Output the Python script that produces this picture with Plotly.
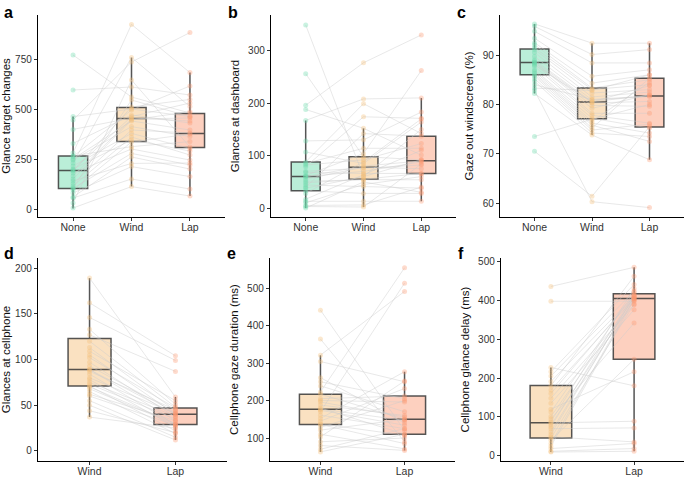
import plotly.graph_objects as go

W, H = 685, 477

# ---------------- data (per participant) ----------------
a_none = [770, 595, 462, 445, 398, 328, 280, 265, 262, 250, 245, 230, 215, 200, 195, 190, 180, 165, 150, 140, 128, 115, 105, 103, 95, 80, 60, 55, 30, 5]
a_wind = [560, 610, 500, 735, 455, 470, 923, 312, 495, 440, 412, 758, 378, 345, 462, 510, 300, 450, 445, 228, 395, 360, 545, 278, 335, 212, 260, 150, 645, 112]
a_lap = [480, 570, 462, 882, 440, 430, 682, 337, 615, 395, 362, 512, 303, 290, 530, 548, 245, 455, 487, 230, 380, 270, 462, 220, 375, 162, 200, 100, 310, 65]

b_none = [349, 256, 196, 188, 167, 128, 107, 88, 85, 82, 79, 70, 68, 62, 60, 60, 55, 51, 48, 44, 40, 38, 33, 28, 17, 13, 10, 5, 3, 0]
b_wind = [60, 98, 277, 152, 208, 130, 85, 199, 114, 92, 174, 76, 66, 104, 80, 70, 78, 54, 55, 41, 142, 60, 28, 88, 64, 13, 45, 6, 2, 50]
b_lap = [150, 92, 330, 101, 210, 183, 164, 142, 114, 123, 171, 82, 66, 262, 90, 88, 75, 54, 66, 38, 137, 92, 28, 170, 110, 13, 60, 40, 84, 30]

c_none = [96.3, 95.8, 94.8, 93.4, 92.5, 92.1, 91.5, 91.1, 90.5, 89.7, 89.0, 88.7, 88.5, 88.5, 88.2, 87.7, 87.0, 86.7, 86.3, 86.0, 85.7, 85.2, 84.7, 84.0, 83.3, 82.8, 82.2, 73.5, 70.5, 88.0]
c_wind = [92.4, 90.1, 88.4, 85.7, 84.3, 83.3, 83.0, 82.3, 81.5, 80.9, 80.5, 80.3, 79.8, 79.2, 78.2, 77.8, 77.2, 76.6, 76.2, 75.8, 75.2, 74.8, 74.2, 81.0, 82.8, 60.3, 73.8, 77.0, 61.4, 80.5]
c_lap = [92.4, 91.1, 88.4, 87.0, 86.0, 85.0, 84.0, 83.0, 82.5, 81.6, 81.9, 80.6, 79.6, 82.0, 78.2, 76.2, 75.2, 84.5, 74.2, 72.5, 85.3, 76.0, 73.5, 81.7, 86.0, 59.1, 68.8, 80.0, 75.5, 83.8]

d_wind = [189, 162, 146, 133, 127, 120, 113, 109, 105, 102, 97, 93, 89, 89, 87, 84, 80, 78, 75, 73, 71, 70, 68, 65, 62, 60, 55, 50, 44, 37]
d_lap = [59, 104, 99, 51, 87, 48, 44, 55, 40, 47, 37, 42, 40, 33, 45, 29, 41, 26, 38, 35, 22, 30, 29, 19, 33, 28, 15, 12, 20, 25]

e_wind = [441, 364, 321, 304, 261, 250, 239, 223, 217, 205, 200, 196, 188, 180, 177, 174, 170, 161, 152, 145, 138, 136, 128, 121, 110, 103, 90, 80, 70, 63]
e_lap = [120, 90, 491, 250, 140, 205, 170, 554, 150, 212, 196, 156, 160, 110, 147, 134, 513, 125, 277, 232, 107, 85, 200, 150, 71, 252, 100, 67, 125, 110]

f_wind = [435, 397, 227, 216, 205, 191, 180, 169, 160, 148, 135, 120, 113, 101, 95, 88, 85, 80, 75, 70, 62, 55, 49, 46, 40, 32, 25, 19, 12, 10]
f_lap = [484, 397, 180, 440, 423, 410, 461, 404, 410, 388, 375, 216, 420, 405, 341, 430, 89, 400, 415, 72, 408, 412, 36, 390, 248, 404, 400, 32, 19, 12]

# box statistics [q1, median, q3, lower whisker, upper whisker]
a_stats = [[103, 192, 265, 3, 462], [337, 453, 508, 112, 758], [307, 378, 478, 65, 682]]
b_stats = [[33, 60, 88, 0, 167], [55, 78, 98, 2, 152], [66, 90, 137, 13, 210]]
c_stats = [[86.0, 88.5, 91.2, 82.2, 96.3], [77.1, 80.5, 83.3, 73.8, 92.4], [75.4, 81.7, 85.3, 68.8, 92.4]]
d_stats = [[71, 89, 123, 37, 189], [29, 40, 47, 12, 59]]
e_stats = [[136, 177, 217, 63, 321], [110, 150, 212, 67, 277]]
f_stats = [[46, 85, 181, 10, 227], [248, 404, 416, 12, 484]]

cats3 = ["None", "Wind", "Lap"]
cats2 = ["Wind", "Lap"]

panels = [
    dict(letter="a", title="Glance target changes", cats=cats3, series=[a_none, a_wind, a_lap], stats=a_stats,
         yr=[-40, 970], ticks=[0, 250, 500, 750], xd=[38, 225], yd=[15, 217]),
    dict(letter="b", title="Glances at dashboard", cats=cats3, series=[b_none, b_wind, b_lap], stats=b_stats,
         yr=[-17, 368], ticks=[0, 100, 200, 300], xd=[271, 456], yd=[15, 217]),
    dict(letter="c", title="Gaze out windscreen (%)", cats=cats3, series=[c_none, c_wind, c_lap], stats=c_stats,
         yr=[57.2, 98.1], ticks=[60, 70, 80, 90], xd=[500, 684], yd=[15, 217]),
    dict(letter="d", title="Glances at cellphone", cats=cats2, series=[d_wind, d_lap], stats=d_stats,
         yr=[-11, 211], ticks=[0, 50, 100, 150, 200], xd=[38, 227], yd=[258, 461]),
    dict(letter="e", title="Cellphone gaze duration (ms)", cats=cats2, series=[e_wind, e_lap], stats=e_stats,
         yr=[38.7, 580], ticks=[100, 200, 300, 400, 500], xd=[270, 455], yd=[258, 461]),
    dict(letter="f", title="Cellphone glance delay (ms)", cats=cats2, series=[f_wind, f_lap], stats=f_stats,
         yr=[-13, 508], ticks=[0, 100, 200, 300, 400, 500], xd=[501, 684], yd=[258, 461]),
]

base_col = {"None": "102,217,168", "Wind": "243,189,117", "Lap": "251,151,113"}

fig = go.Figure()
layout = dict(width=W, height=H, margin=dict(l=0, r=0, t=0, b=0, autoexpand=False),
              paper_bgcolor="white", plot_bgcolor="white", showlegend=False,
              font=dict(family="Liberation Sans, Arial, sans-serif", color="#222"))
annotations = []

for i, p in enumerate(panels):
    k = "" if i == 0 else str(i + 1)
    xa, ya = "x" + k, "y" + k
    n = len(p["cats"])
    xs = list(range(n))
    # paired lines
    npart = len(p["series"][0])
    for j in range(npart):
        fig.add_trace(go.Scatter(x=xs, y=[s[j] for s in p["series"]], mode="lines",
                                 line=dict(color="rgba(205,205,205,0.45)", width=1),
                                 xaxis=xa, yaxis=ya, hoverinfo="skip"))
    # boxes
    for ci, c in enumerate(p["cats"]):
        q1, med, q3, lo, hi = p["stats"][ci]
        fig.add_trace(go.Box(x=[ci], q1=[q1], median=[med], q3=[q3], lowerfence=[lo], upperfence=[hi],
                             width=0.5, whiskerwidth=0, boxpoints=False,
                             fillcolor="rgba(%s,0.45)" % base_col[c],
                             line=dict(color="rgba(55,55,55,0.85)", width=1.5),
                             xaxis=xa, yaxis=ya))
    # points
    for ci, c in enumerate(p["cats"]):
        vals = p["series"][ci]
        fig.add_trace(go.Scatter(x=[ci] * len(vals), y=vals, mode="markers",
                                 marker=dict(color="rgba(%s,0.35)" % base_col[c], size=5),
                                 xaxis=xa, yaxis=ya, hoverinfo="skip"))
    xd = [p["xd"][0] / W, p["xd"][1] / W]
    yd = [1 - p["yd"][1] / H, 1 - p["yd"][0] / H]
    layout["xaxis" + k] = dict(domain=xd, anchor=ya, range=[-0.6, n - 0.4], tickmode="array",
                               tickvals=xs, ticktext=p["cats"], showgrid=False, zeroline=False,
                               showline=True, linecolor="black", linewidth=1.4,
                               ticks="outside", ticklen=3, tickcolor="#333", automargin=False,
                               ticklabelstandoff=-3,
                               tickfont=dict(size=10.5, color="#333"))
    layout["yaxis" + k] = dict(domain=yd, anchor=xa, range=p["yr"], tickmode="array",
                               tickvals=p["ticks"], showgrid=False, zeroline=False,
                               showline=True, linecolor="black", linewidth=1.4,
                               ticks="outside", ticklen=3, tickcolor="#333", automargin=False,
                               tickfont=dict(size=10, color="#333"),
                               title=dict(text=p["title"], font=dict(size=11.5, color="#111"), standoff=6))
    lx = 2 if p["xd"][0] < 100 else p["xd"][0] - 45
    ly = 2 if p["yd"][0] < 100 else 243
    annotations.append(dict(text="<b>%s</b>" % p["letter"], x=lx / W, y=1 - ly / H, xref="paper", yref="paper",
                            xanchor="left", yanchor="top", showarrow=False,
                            font=dict(size=16, color="black", family="Liberation Sans, Arial, sans-serif")))

layout["annotations"] = annotations
fig.update_layout(**layout)
fig.write_html("out.html", config={"displayModeBar": False},
               post_script="document.body.style.margin='0';document.body.style.overflow='hidden';")
